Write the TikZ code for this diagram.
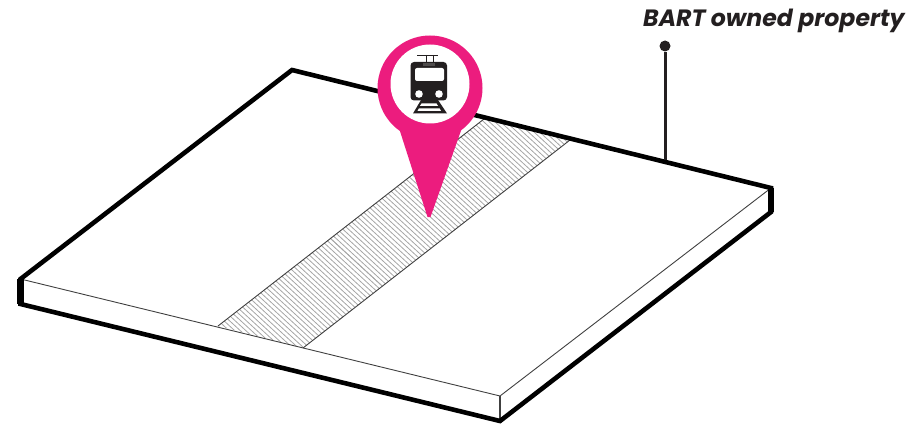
\documentclass[tikz,border=0pt]{standalone}
\usepackage{fontspec}
\setmainfont{Poppins}
\definecolor{pinpink}{HTML}{EC1C7E}
\definecolor{inkblack}{HTML}{231F20}
\begin{document}
\begin{tikzpicture}[
    x=1pt, y=-1pt,
    slab/.style={draw=black, line width=4.6pt, line join=miter},
    slabside/.style={draw=black, line width=6.5pt},
    thinedge/.style={draw=black!75, line width=0.9pt},
    hatchline/.style={draw=black!35, line width=0.8pt},
    pole/.style={draw=inkblack, line width=3pt},
    label/.style={font=\bfseries\itshape\fontsize{23.6}{26}\selectfont, text=inkblack, inner sep=0pt},
]
\useasboundingbox (0,0) rectangle (920,425);

\coordinate (left) at (20.5,279);
\coordinate (back) at (292,70);
\coordinate (right) at (771,188);
\coordinate (front) at (500,396);
\coordinate (leftlow) at (20.5,304);
\coordinate (rightlow) at (771,212);
\coordinate (frontlow) at (500,421);
\coordinate (stripa) at (218,326);
\coordinate (stripb) at (303,348);
\coordinate (stripc) at (570,140);
\coordinate (stripd) at (484,119);

% Hatched strip
\begin{scope}
\clip (stripa) -- (stripb) -- (stripc) -- (stripd) -- cycle;
\foreach \i in {0,...,95} {
    \draw[hatchline] (180+5.6*\i,100) -- ++(300,300*0.92);
    \draw[hatchline] (180-5.6*\i,100) -- ++(300,300*0.92);
}
\end{scope}
\draw[thinedge] (stripa) -- (stripd);
\draw[thinedge] (stripb) -- (stripc);

% Slab
\draw[thinedge] (left) -- (front) -- (right);
\draw[thinedge, line width=1.3pt] (front) -- (frontlow);
\draw[slab] (frontlow) -- (leftlow) -- (left) -- (back) -- (right) -- (rightlow) -- cycle;
\draw[slabside] (left) -- (leftlow);
\draw[slabside] (right) -- (rightlow);

% Callout
\node[label, anchor=base west] (bart) at (643,27) {BART owned property};
\coordinate (poleend) at (665,160);
\node[circle, fill=inkblack, inner sep=0pt, minimum size=11pt] (dot) at (665,46) {};
\draw[pole] (dot) -- (poleend);

% Pin
\node[circle, fill=pinpink, inner sep=0pt, minimum size=105pt] (pinhead) at (430,88) {};
\coordinate (tip) at (429,217);
\fill[pinpink] (398,125) -- (427.5,217) -- (430.5,217) -- (463,125) -- cycle;
\node[circle, fill=white, inner sep=0pt, minimum size=79pt] (pinhole) at (430,84) {};

% Train
\fill[inkblack, rounded corners=3.5pt] (410.5,62) rectangle (447,100.5);
\fill[white, rounded corners=2pt] (415,68) rectangle (444,81);
\fill[white] (419,94) circle (3.8) (439,94) circle (3.8);
\fill[inkblack!80] (423,63) rectangle (435,66);
\draw[inkblack, line width=0.6pt] (417,55) -- (438,55) (426,55) -- (426,62) (433,55) -- (433,62);
\fill[inkblack] (421,100) -- (438,100) -- (447,113.5) -- (413,113.5) -- cycle;
\fill[white] (421.5,103.5) -- (436.5,103.5) -- (438,105.8) -- (420,105.8) -- cycle;
\fill[white] (419,108.3) -- (439.5,108.3) -- (441,110.8) -- (417.5,110.8) -- cycle;
\end{tikzpicture}
\end{document}
